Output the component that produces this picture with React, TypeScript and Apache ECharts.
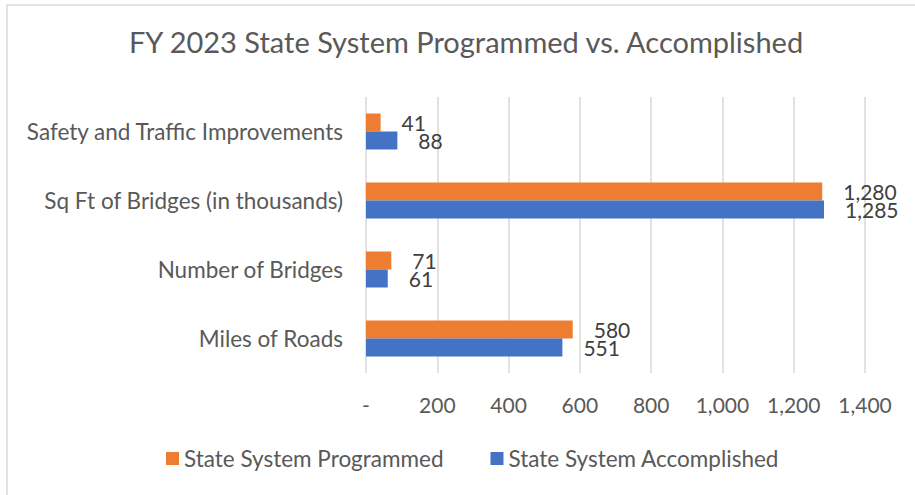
import React, { useEffect, useRef } from "react";
import * as echarts from "echarts";

const categories = [
  "Miles of Roads",
  "Number of Bridges",
  "Sq Ft of Bridges (in thousands)",
  "Safety and Traffic Improvements",
];
const programmed = [580, 71, 1280, 41];
const accomplished = [551, 61, 1285, 88];
const seriesNames = ["State System Programmed", "State System Accomplished"];
const titleText = "FY 2023 State System Programmed vs. Accomplished";

const FONT = "Lato, 'Open Sans', sans-serif";
const fmt = (v: number) => (v === 0 ? "-" : v.toLocaleString("en-US"));

export default function App() {
  const ref = useRef<HTMLDivElement>(null);
  useEffect(() => {
    if (!ref.current) return;
    const chart = echarts.init(ref.current, undefined, { renderer: "svg" });
    const labelStyle = {
      show: true,
      position: "right" as const,
      distance: 21,
      fontFamily: FONT,
      fontSize: 21,
      lineHeight: 17,
      color: "#404040",
      formatter: (p: any) => fmt(p.value),
    };
    chart.setOption({
      animation: false,
      backgroundColor: "#ffffff",
      title: {
        text: titleText,
        left: 466,
        textAlign: "center",
        top: 27,
        padding: 0,
        textStyle: { fontFamily: FONT, fontSize: 29, fontWeight: "normal", color: "#595959" },
      },
      legend: {
        data: seriesNames,
        left: 166,
        top: 447,
        padding: 0,
        itemWidth: 13,
        itemHeight: 13,
        itemGap: 47,
        icon: "rect",
        textStyle: { fontFamily: FONT, fontSize: 22.5, color: "#595959" },
      },
      grid: { left: 366, right: 50, top: 97, height: 276, containLabel: false },
      xAxis: {
        type: "value",
        min: 0,
        max: 1400,
        interval: 200,
        axisLine: { show: false },
        axisTick: { show: false },
        splitLine: { show: true, lineStyle: { color: "#D9D9D9", width: 1.5 } },
        axisLabel: {
          fontFamily: FONT,
          fontSize: 21,
          color: "#595959",
          margin: 21,
          formatter: (v: number) => fmt(v),
        },
      },
      yAxis: {
        type: "category",
        data: categories,
        axisLine: { show: false },
        axisTick: { show: false },
        axisLabel: { fontFamily: FONT, fontSize: 22.5, color: "#595959", margin: 23 },
      },
      series: [
        {
          name: seriesNames[0],
          type: "bar",
          data: programmed,
          barWidth: 18,
          barGap: "0%",
          itemStyle: { color: "#ED7D31" },
          label: labelStyle,
        },
        {
          name: seriesNames[1],
          type: "bar",
          data: accomplished,
          barWidth: 18,
          barGap: "0%",
          itemStyle: { color: "#4472C4" },
          label: labelStyle,
        },
      ],
      graphic: [
        { type: "line", shape: { x1: 7, y1: 5, x2: 7, y2: 495 }, style: { stroke: "#D9D9D9", lineWidth: 1.5 } },
        { type: "line", shape: { x1: 7, y1: 5, x2: 915, y2: 5 }, style: { stroke: "#D9D9D9", lineWidth: 1.5 } },
      ],
    });
    return () => chart.dispose();
  }, []);
  return (
    <div
      ref={ref}
      style={{ position: "fixed", left: 0, top: 0, width: 915, height: 495 }}
    />
  );
}
